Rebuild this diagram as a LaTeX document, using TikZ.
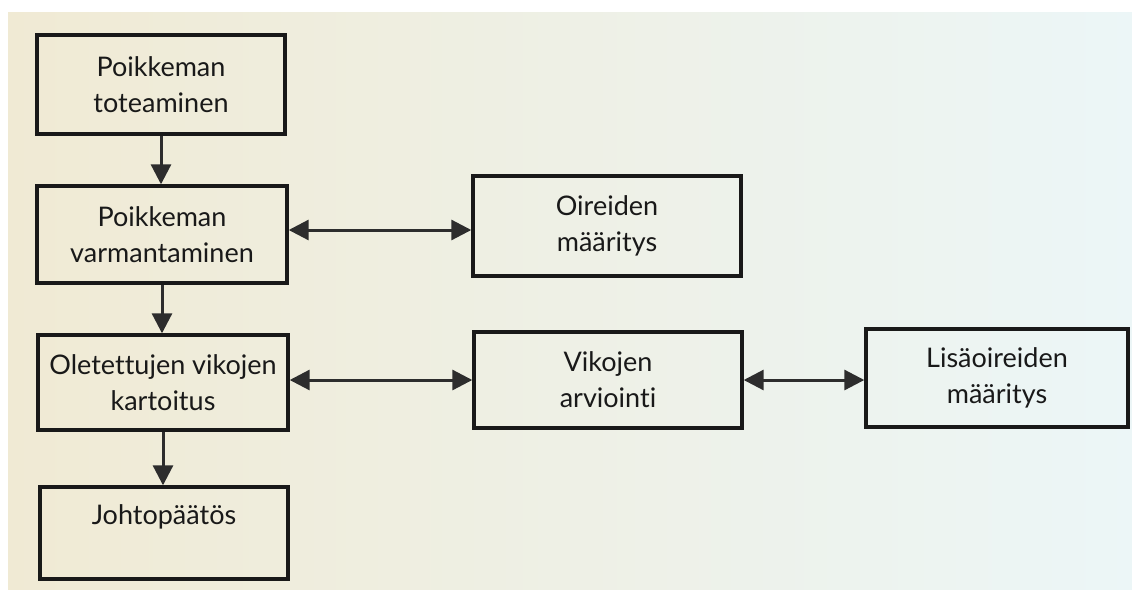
\documentclass[tikz,border=0pt]{standalone}
\usepackage{fontspec}
\setmainfont{Lato}[Ligatures={NoCommon,NoRare}]
\usetikzlibrary{arrows.meta}
\definecolor{bgL}{RGB}{240,234,212}
\definecolor{bgM}{RGB}{252,250,230}
\definecolor{bgR}{RGB}{236,246,247}
\definecolor{ink}{RGB}{25,25,25}
\definecolor{arr}{RGB}{45,45,45}
\tikzset{
  box/.style={draw=ink, line width=3.4pt, rectangle, align=center, inner sep=0pt,
    text=ink, font=\fontsize{27}{36}\selectfont},
  link/.style={draw=arr, line width=3pt, -{Triangle[length=20pt,width=20pt]}},
  dlink/.style={draw=arr, line width=3pt, {Triangle[length=20pt,width=20pt]}-{Triangle[length=20pt,width=20pt]}}
}
\begin{document}
\begin{tikzpicture}[x=1pt,y=-1pt]
\fill[white] (0,0) rectangle (1132,598);
\useasboundingbox (0,0) rectangle (1132,598);
\shade[left color=bgL, middle color=bgM, right color=bgR] (8,12) rectangle (1132,589);

\node[box, minimum width=248pt, minimum height=99pt] (b1) at (161,84.5) {Poikkeman\\toteaminen};
\node[box, minimum width=250pt, minimum height=97pt] (b2) at (162,234.5) {Poikkeman\\varmantaminen};
\node[box, minimum width=250pt, minimum height=95pt] (b3) at (163,382.5) {Oletettujen vikojen\\kartoitus};
\node[box, minimum width=248pt, minimum height=92pt] (b4) at (164,533) {Johtopäätös\\[-10pt]\strut};
\node[box, minimum width=268pt, minimum height=100pt] (b5) at (607,226) {Oireiden\\määritys};
\node[box, minimum width=268pt, minimum height=96pt] (b6) at (608,380) {Vikojen\\arviointi};
\node[box, minimum width=262pt, minimum height=98pt] (b7) at (997,378) {Lisäoireiden\\määritys};

\draw[link] (b1.south) -- (b1.south |- b2.north);
\draw[link] (b2.south) -- (b2.south |- b3.north);
\draw[link] (b3.south) -- (b3.south |- b4.north);
\draw[dlink] ([yshift=4.5pt]b2.east) -- ([yshift=4.5pt]b2.east -| b5.west);
\draw[dlink] (b6.west -| b3.east) -- (b6.west);
\draw[dlink] (b6.east) -- (b6.east -| b7.west);
\end{tikzpicture}
\end{document}
